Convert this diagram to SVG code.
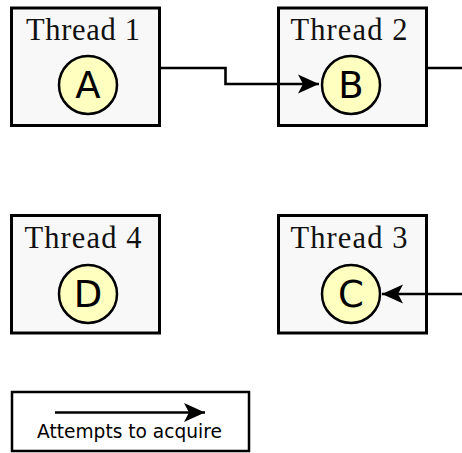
<svg xmlns="http://www.w3.org/2000/svg" width="462" height="453" viewBox="0 0 462 453">
<style>
.box{fill:#f8f8f8;stroke:#000;stroke-width:3}
.res{fill:#ffffbf;stroke:#000;stroke-width:2.5}
.title{font-family:"Liberation Serif",serif;font-size:30.5px;fill:#111;text-anchor:middle}
.lbl{font-family:"DejaVu Sans",sans-serif;font-size:37px;fill:#000;text-anchor:middle}
.edge{fill:none;stroke:#000;stroke-width:2.6}
.legtxt{font-family:"DejaVu Sans",sans-serif;font-size:18.6px;fill:#000;text-anchor:middle}
</style>
<defs>
<marker id="ah" viewBox="-21 -10 22 20" markerUnits="userSpaceOnUse" markerWidth="22" markerHeight="20" refX="0" refY="0" orient="auto">
<path d="M0,0 L-21,-9.5 L-16,0 L-21,9.5 Z" fill="#000"/>
</marker>
</defs>
<rect width="462" height="453" fill="#fff"/>
<g id="thread1">
<rect class="box" x="11.5" y="8" width="148" height="117.5"/>
<text class="title" x="83" y="40" textLength="114" lengthAdjust="spacing">Thread 1</text>
<circle class="res" cx="88" cy="85" r="29"/>
<text class="lbl" x="88" y="98">A</text>
</g>
<g id="thread2">
<rect class="box" x="278.5" y="8" width="148" height="117.5"/>
<text class="title" x="349" y="40" textLength="117" lengthAdjust="spacing">Thread 2</text>
<circle class="res" cx="351" cy="85" r="29"/>
<text class="lbl" x="351" y="98">B</text>
</g>
<g id="thread3">
<rect class="box" x="278.5" y="215.5" width="148" height="117.5"/>
<text class="title" x="349" y="248" textLength="117" lengthAdjust="spacing">Thread 3</text>
<circle class="res" cx="351" cy="294" r="29"/>
<text class="lbl" x="351" y="307">C</text>
</g>
<g id="thread4">
<rect class="box" x="11.5" y="215.5" width="148" height="117.5"/>
<text class="title" x="83" y="248" textLength="117" lengthAdjust="spacing">Thread 4</text>
<circle class="res" cx="88" cy="294" r="29"/>
<text class="lbl" x="88" y="307">D</text>
</g>
<g id="connectors">
<path class="edge" d="M160,68 H225.5 V84 H319" marker-end="url(#ah)"/>
<path class="edge" d="M428,68 H462"/>
<path class="edge" d="M462,294 H382" marker-end="url(#ah)"/>
</g>
<g id="legend">
<rect x="12" y="392" width="237" height="59" fill="#fff" stroke="#000" stroke-width="2.5"/>
<path class="edge" d="M55,412.5 H205" marker-end="url(#ah)"/>
<text class="legtxt" x="129.5" y="438">Attempts to acquire</text>
</g>
</svg>
